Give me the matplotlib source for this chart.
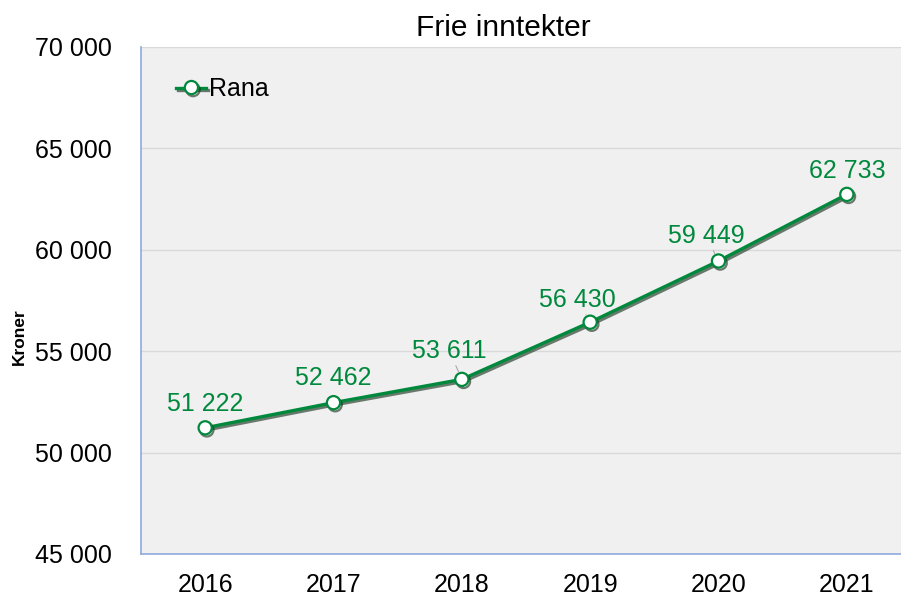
import matplotlib.pyplot as plt
import matplotlib.patheffects as pe

years = ["2016", "2017", "2018", "2019", "2020", "2021"]
rana = [51222, 52462, 53611, 56430, 59449, 62733]
yticks = [45000, 50000, 55000, 60000, 65000, 70000]

# label offsets (points, label centre) and which ones get a leader line
offsets = [(0, 17.5), (0, 17.5), (-9, 20.5), (-9, 16), (-9, 18), (0, 16.5)]
leaders = [False, False, True, True, True, False]

green = "#00893d"
plt.rcParams["font.family"] = ["Liberation Sans", "DejaVu Sans"]

fig = plt.figure(figsize=(9.01, 5.97), dpi=100)
ax = fig.add_axes([141 / 901, 43 / 597, 770 / 901, 507 / 597])
ax.set_facecolor("#f0f0f0")

x = list(range(len(years)))
shadow = [pe.SimpleLineShadow(offset=(1.2, -1.5), shadow_color="#0d2a14", alpha=0.6), pe.Normal()]
ax.plot(x, rana, color=green, lw=2.4, marker="o", markersize=9.5,
        markerfacecolor="white", markeredgecolor=green, markeredgewidth=1.6,
        label="Rana", path_effects=shadow, zorder=3)

def fmt(v):
    return f"{v:,}".replace(",", " ")

for xi, v, off, lead in zip(x, rana, offsets, leaders):
    ap = dict(arrowstyle="-", color="#a0a0a0", lw=0.7, shrinkA=0, shrinkB=6) if lead else None
    ax.annotate(fmt(v), (xi, v), xytext=off, textcoords="offset points",
                ha="center", va="center", fontsize=18, color=green, arrowprops=ap)

ax.set_xlim(-0.5, 5.5)
ax.set_ylim(45000, 70000)
ax.set_yticks(yticks)
ax.set_yticklabels([fmt(t) for t in yticks])
ax.set_xticks(x)
ax.set_xticklabels(years)
ax.tick_params(axis="y", length=0, pad=21, labelsize=18)
ax.tick_params(axis="x", length=0, pad=14, labelsize=18)
ax.grid(axis="y", color="#d9d9d9", lw=1)
ax.set_axisbelow(True)
for s in ["top", "right"]:
    ax.spines[s].set_visible(False)
for s in ["left", "bottom"]:
    ax.spines[s].set_color("#8faadc")
    ax.spines[s].set_linewidth(1.2)

ax.set_ylabel("Kroner", fontsize=12.5, fontweight="bold")
ax.yaxis.set_label_coords(-114 / 770, 217 / 507)
fig.text(503 / 901, 1 - 28 / 597, "Frie inntekter", ha="center", va="center", fontsize=21.5)

leg = ax.legend(loc="upper left", bbox_to_anchor=(0.033, 0.96), frameon=False,
                fontsize=18, handlelength=1.2, handletextpad=0.1, borderaxespad=0)

fig.savefig("out.png", dpi=100)
